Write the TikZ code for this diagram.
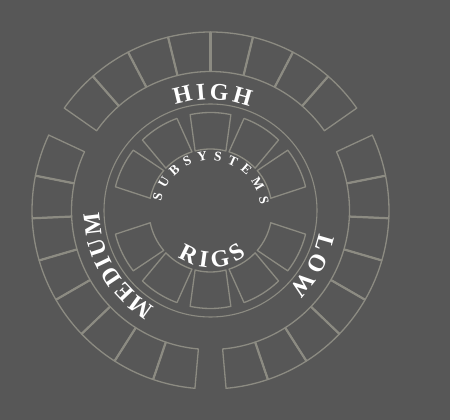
\documentclass[tikz,border=0pt]{standalone}
\usepackage{fontspec}
\setmainfont{Liberation Serif}
\usetikzlibrary{decorations.text}
\definecolor{bg}{RGB}{87,87,87}
\definecolor{ln}{RGB}{140,139,130}
\begin{document}
\begin{tikzpicture}[x=1pt,y=1pt,
  seg/.style={draw=ln, line width=1.3pt, line join=round},
  sepline/.style={draw=ln, line width=2.2pt},
  ringline/.style={draw=ln, line width=1.1pt},
  arctext/.style 2 args={decorate, decoration={text along path, text align=fit to path,
     text color=white, text={|\fontsize{#1}{#1}\selectfont\bfseries|#2}}},
]
\fill[bg] (0,0) rectangle (450,420);
\useasboundingbox (0,0) rectangle (450,420);
\begin{scope}[shift={(210.5,209.5)}]
  % outer ring: three groups of eight segments
  \foreach \c in {90,210,330}{
    \foreach \k in {0,...,7}{
      \pgfmathsetmacro\a{\c-55+13.75*\k}
      \pgfmathsetmacro\b{\a+13.75}
      \draw[seg] (\a:139) -- (\a:178.5) arc[start angle=\a, end angle=\b, radius=178.5]
        -- (\b:139) arc[start angle=\b, end angle=\a, radius=139] -- cycle;
    }
    \foreach \k in {1,...,7}{
      \pgfmathsetmacro\a{\c-55+13.75*\k}
      \draw[sepline] (\a:139) -- (\a:178.5);
    }
  }
  % thin circle
  \draw[ringline] (0,0) circle[radius=106.5];
  % inner ring: two groups of five blocks
  \foreach \c in {26,58,90,122,154,206,238,270,302,334}{
    \draw[seg] (\c-14.5:61.5) -- (\c-12:98) arc[start angle=\c-12, end angle=\c+12, radius=98]
      -- (\c+14.5:61.5) arc[start angle=\c+14.5, end angle=\c-14.5, radius=61.5] -- cycle;
  }
  % curved labels
  \path[arctext={24}{HIGH}] (108.5:111) arc[start angle=108.5, end angle=69.5, radius=111];
  \path[arctext={24}{MEDIUM}] (240:111) arc[start angle=240, end angle=181, radius=111];
  \path[arctext={24}{LOW}] (348:111) arc[start angle=348, end angle=315, radius=111];
  \path[arctext={13.5}{SUBSYSTEMS}] (170:50) arc[start angle=170, end angle=7, radius=50];
  \path[arctext={24}{RIGS}] (235:57) arc[start angle=235, end angle=309, radius=57];
\end{scope}
\end{tikzpicture}
\end{document}
